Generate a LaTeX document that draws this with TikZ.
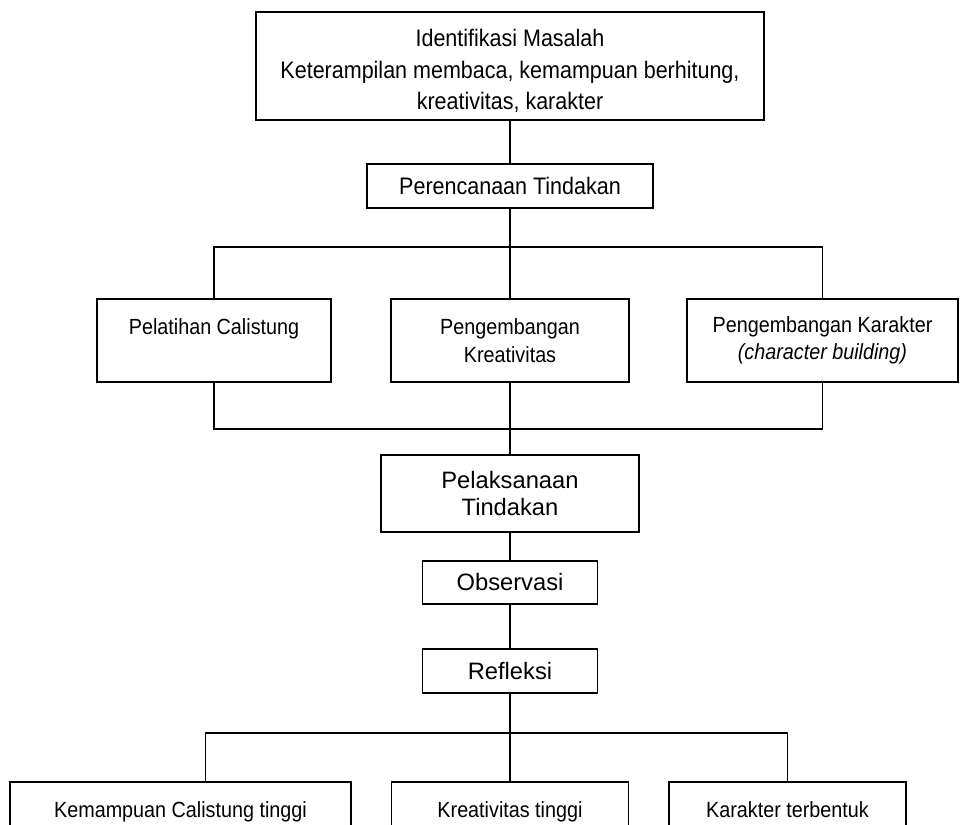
\documentclass[tikz,border=0pt]{standalone}
\usepackage{fontspec}
\setmainfont{Liberation Sans}
\newfontfamily\sempit[FakeStretch=0.9]{Liberation Sans}
\usepackage{tikz}

\tikzset{
  kotak/.style={draw, line width=0.8pt, align=center, inner sep=2pt},
  garis/.style={line width=0.7pt},
  hurufbesar/.style={font=\fontsize{13.5}{15.3}\selectfont},
  hurufsedang/.style={font=\sempit\fontsize{13.6}{18}\selectfont},
  hurufkecil/.style={font=\sempit\fontsize{12.5}{15.7}\selectfont}
}

\begin{document}
\begin{tikzpicture}[x=0.02cm, y=-0.02cm]
    \clip (0,0) rectangle (961,825);
    % kotak atas
    \node[kotak, hurufsedang, minimum width=10.16cm, minimum height=2.16cm] (ident) at (510,66)
      {\rule{0pt}{15.5pt}Identifikasi Masalah\\ Keterampilan membaca, kemampuan berhitung,\\ kreativitas, karakter};
    \node[kotak, hurufsedang, minimum width=5.72cm, minimum height=0.88cm] (rencana) at (510,186)
      {Perencanaan Tindakan};
    % tiga tindakan
    \node[kotak, hurufkecil, minimum width=4.68cm, minimum height=1.66cm] (latih) at (214,340.5)
      {Pelatihan Calistung\\ \mbox{}};
    \node[kotak, hurufkecil, minimum width=4.76cm, minimum height=1.66cm] (kreatif) at (510,340.5)
      {Pengembangan\\ Kreativitas};
    \node[kotak, hurufkecil, minimum width=5.42cm, minimum height=1.66cm] (karakter) at (822.5,340.5)
      {Pengembangan Karakter\\ \textit{(character building)}};
    % siklus
    \node[kotak, hurufbesar, minimum width=5.16cm, minimum height=1.54cm] (laksana) at (510,493.5)
      {Pelaksanaan\\ Tindakan};
    \node[kotak, hurufbesar, minimum width=3.5cm, minimum height=0.86cm] (observasi) at (510,582.5)
      {Observasi};
    \node[kotak, hurufbesar, minimum width=3.5cm, minimum height=0.88cm] (refleksi) at (510,671)
      {Refleksi};
    % hasil
    \node[kotak, hurufkecil, minimum width=6.82cm, minimum height=1.66cm] (hasil1) at (180.5,823.5)
      {Kemampuan Calistung tinggi\\ \mbox{}};
    \node[kotak, hurufkecil, minimum width=4.74cm, minimum height=1.66cm] (hasil2) at (510,823.5)
      {Kreativitas tinggi\\ \mbox{}};
    \node[kotak, hurufkecil, minimum width=4.74cm, minimum height=1.66cm] (hasil3) at (787.5,823.5)
      {Karakter terbentuk\\ \mbox{}};

    \coordinate (cabang1) at (510,247);
    \coordinate (gabung) at (510,429);
    \coordinate (cabang2) at (510,733);

    \draw[garis] (ident) -- (rencana) -- (cabang1);
    \draw[garis] (latih.north) |- (cabang1) -| (karakter.north);
    \draw[garis] (cabang1) -- (kreatif);
    \draw[garis] (latih.south) |- (gabung) -| (karakter.south);
    \draw[garis] (kreatif) -- (gabung) -- (laksana);
    \draw[garis] (laksana) -- (observasi) -- (refleksi) -- (cabang2);
    \draw[garis] ([xshift=0.5cm]hasil1.north) |- (cabang2) -| (hasil3.north);
    \draw[garis] (cabang2) -- (hasil2);
\end{tikzpicture}
\end{document}
